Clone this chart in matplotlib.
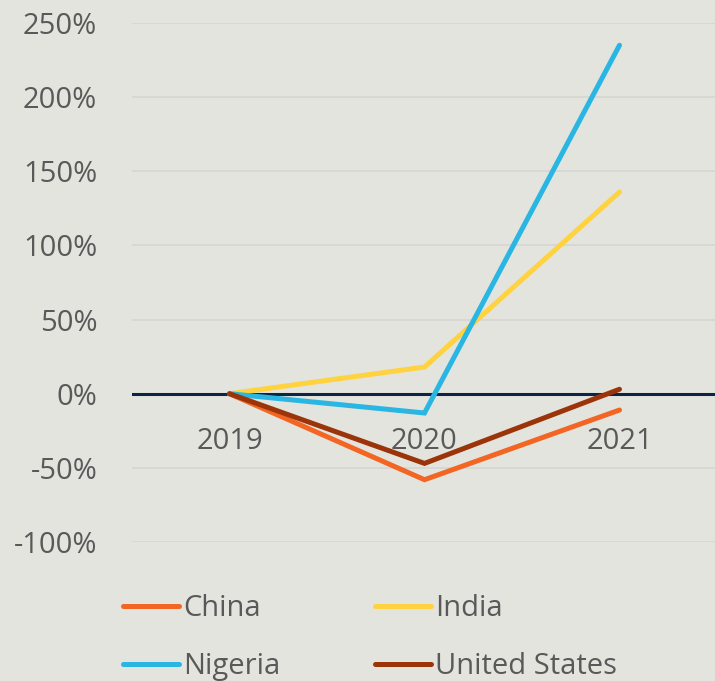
import matplotlib.pyplot as plt
from matplotlib.ticker import FuncFormatter

# =========================
# DATA
# =========================
years = ["2019", "2020", "2021"]
china = [0, -58, -11]
india = [0, 18, 136]
nigeria = [0, -13, 235]
united_states = [0, -47, 3]

COLORS = {
    "China": "#F26522",
    "India": "#FFD23F",
    "Nigeria": "#29B6E3",
    "United States": "#9C3409",
}
BG = "#E4E4DF"
TEXT = "#595959"

plt.rcParams["font.family"] = ["Open Sans", "DejaVu Sans"]

# =========================
# PLOT
# =========================
fig = plt.figure(figsize=(7.15, 6.81), dpi=100, facecolor=BG)
ax = fig.add_axes([132 / 715, 139 / 681, 585 / 715, 519 / 681])
ax.set_facecolor(BG)

x = range(len(years))
series = [("China", china), ("India", india), ("Nigeria", nigeria), ("United States", united_states)]
lines = {}
for name, vals in series:
    (ln,) = ax.plot(x, vals, color=COLORS[name], lw=3.6, solid_capstyle="round",
                    solid_joinstyle="miter", label=name, zorder=3)
    lines[name] = ln

ax.axhline(0, color="#0B2545", lw=2.2, zorder=2)

ax.set_xlim(-0.5, 2.5)
ax.set_ylim(-100, 250)
ax.set_yticks(range(-100, 251, 50))
ax.yaxis.set_major_formatter(FuncFormatter(lambda v, p: f"{v:.0f}%"))
ax.grid(axis="y", color="#D5D5D1", lw=1.2, zorder=1)
ax.tick_params(axis="y", length=0, pad=25, labelsize=21, labelcolor=TEXT)
ax.set_xticks([])
for s in ax.spines.values():
    s.set_visible(False)

# year labels sit just under the zero line
for i, yr in enumerate(years):
    ax.text(i, -32, yr, ha="center", va="center", fontsize=21, color=TEXT)

handles = [lines["China"], lines["Nigeria"], lines["India"], lines["United States"]]
fig.legend(handles=handles, labels=[h.get_label() for h in handles], ncol=2,
           loc="upper left", bbox_to_anchor=(123 / 715, 1 - 594 / 681),
           frameon=False, fontsize=21, labelcolor=TEXT, handlelength=1.92,
           handletextpad=0.14, columnspacing=3.24, labelspacing=1.0,
           borderaxespad=0, borderpad=0)

fig.savefig("out.png", dpi=100, facecolor=BG)
